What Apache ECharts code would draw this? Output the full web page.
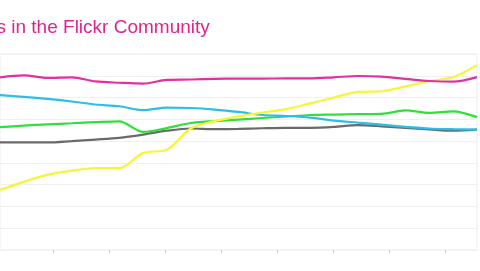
<!DOCTYPE html>
<html>
<head>
<meta charset="utf-8">
<style>
  html, body { margin: 0; padding: 0; background: #ffffff; }
  #chart { width: 480px; height: 271px; }
</style>
<script src="https://cdn.jsdelivr.net/npm/echarts@6/dist/echarts.min.js"></script>
</head>
<body>
<div id="chart"></div>
<script>
const titleText = 's in the Flickr Community';
const categories = ['1','2','3','4','5','6','7','8','9','10','11','12','13','14','15','16','17','18','19','20','21'];
const pinkValues   = [7.93, 8.02, 7.90, 7.93, 7.74, 7.68, 7.64, 7.81, 7.83, 7.86, 7.87, 7.87, 7.88, 7.88, 7.93, 7.99, 7.96, 7.86, 7.76, 7.73, 7.94];
const cyanValues   = [7.11, 7.03, 6.94, 6.82, 6.68, 6.60, 6.42, 6.54, 6.52, 6.45, 6.34, 6.20, 6.15, 6.08, 5.94, 5.85, 5.76, 5.65, 5.58, 5.55, 5.53];
const greenValues  = [5.64, 5.71, 5.77, 5.82, 5.87, 5.91, 5.42, 5.60, 5.83, 5.92, 5.99, 6.06, 6.13, 6.20, 6.22, 6.24, 6.25, 6.41, 6.30, 6.37, 6.10];
const grayValues   = [4.94, 4.94, 4.94, 5.00, 5.07, 5.15, 5.30, 5.48, 5.58, 5.55, 5.56, 5.59, 5.61, 5.61, 5.65, 5.73, 5.68, 5.61, 5.54, 5.48, 5.53];
const yellowValues = [2.76, 3.13, 3.46, 3.64, 3.76, 3.76, 4.46, 4.61, 5.58, 5.92, 6.14, 6.31, 6.47, 6.73, 7.00, 7.26, 7.29, 7.51, 7.76, 7.94, 8.49];
const tickValues = [0, 1, 2, 3, 4, 5, 6, 7];

const chart = echarts.init(document.getElementById('chart'), null, { renderer: 'canvas' });

function line(name, data, color) {
  return {
    name: name, type: 'line', data: data, xAxisIndex: 0, yAxisIndex: 0,
    symbol: 'none', smooth: 0.3,
    lineStyle: { color: color, width: 2.2 },
    z: 3
  };
}

chart.setOption({
  animation: false,
  backgroundColor: '#ffffff',
  graphic: [{
    type: 'text', left: -3.5, top: 18, z: 10,
    style: { text: titleText, fill: '#e0248e', font: '19px "Liberation Sans", Arial, sans-serif' }
  }],
  grid: [
    { left: 0, right: 3, top: 54, bottom: 21, show: true, borderColor: '#ececec', borderWidth: 1, backgroundColor: '#ffffff' },
    { left: 53, right: 3, top: 54, bottom: 21 }
  ],
  xAxis: [
    { type: 'category', gridIndex: 0, data: categories, boundaryGap: false,
      axisLine: { show: false }, axisTick: { show: false }, axisLabel: { show: false }, splitLine: { show: false } },
    { type: 'value', gridIndex: 1, min: 0, max: 424 / 56,
      axisLine: { show: false }, axisLabel: { show: false }, splitLine: { show: false },
      axisTick: { show: true, length: 3, inside: false, customValues: tickValues, lineStyle: { color: '#cfcfcf', width: 1 } } }
  ],
  yAxis: [
    { type: 'value', gridIndex: 0, min: 0, max: 9, interval: 1,
      axisLine: { show: false }, axisTick: { show: false }, axisLabel: { show: false },
      splitLine: { show: true, lineStyle: { color: '#f0f0f0', width: 1 } } },
    { type: 'value', gridIndex: 1, min: 0, max: 9, show: false }
  ],
  series: [
    line('Gray', grayValues, '#6a6a6a'),
    line('Green', greenValues, '#2fe03a'),
    line('Cyan', cyanValues, '#2bbfe8'),
    line('Yellow', yellowValues, '#f6f536'),
    line('Pink', pinkValues, '#e2309f')
  ]
});
</script>
</body>
</html>
